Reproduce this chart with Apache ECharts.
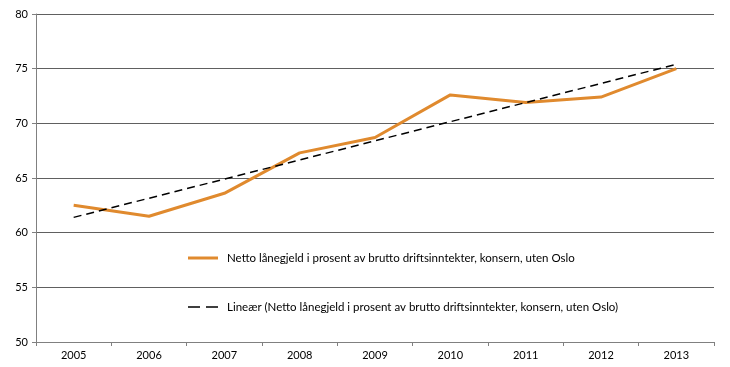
<!DOCTYPE html>
<html><head><meta charset="utf-8">
<script src="https://cdn.jsdelivr.net/npm/echarts@6/dist/echarts.min.js"></script>
<style>html,body{margin:0;padding:0;background:#fff}#c{width:730px;height:367px}</style>
</head><body><div id="c"></div>
<script>
const categories = ['2005','2006','2007','2008','2009','2010','2011','2012','2013'];
const netto = [62.5, 61.5, 63.6, 67.3, 68.7, 72.6, 71.9, 72.4, 75.0];
const trend = [61.4, 63.15, 64.9, 66.65, 68.4, 70.15, 71.9, 73.65, 75.4];
const seriesNames = ['Netto lånegjeld i prosent av brutto driftsinntekter, konsern, uten Oslo',
  'Lineær (Netto lånegjeld i prosent av brutto driftsinntekter, konsern, uten Oslo)'];
const font = 'Lato, "Open Sans", sans-serif';
const chart = echarts.init(document.getElementById('c'));
chart.setOption({
  animation: false,
  grid: {left: 36, right: 16, top: 14, bottom: 25},
  legend: {
    orient: 'vertical', left: 188, top: 252, itemGap: 37, padding: 0,
    itemWidth: 30, itemHeight: 14,
    textStyle: {fontFamily: font, fontSize: 11.5, color: '#000', padding: [0, 0, 0, 4]},
    data: [
      {name: seriesNames[0], icon: 'path://M0,0 L30,0 L30,3 L0,3 Z', itemStyle:{color:'#E08A2E'}},
      {name: seriesNames[1], icon: 'path://M0,0 L12,0 L12,1.5 L0,1.5 Z M18,0 L30,0 L30,1.5 L18,1.5 Z', itemStyle:{color:'#000'}}
    ]
  },
  xAxis: {
    type: 'category', data: categories, boundaryGap: true,
    axisLine: {lineStyle: {color: '#808080', width: 1}},
    axisTick: {show: true, length: 4, lineStyle: {color: '#808080'}},
    axisLabel: {fontFamily: font, fontSize: 11, color: '#000', margin: 8}
  },
  yAxis: {
    type: 'value', min: 50, max: 80, interval: 5,
    axisLine: {show: true, lineStyle: {color: '#808080', width: 1}},
    axisTick: {show: true, length: 4, lineStyle: {color: '#808080'}},
    axisLabel: {fontFamily: font, fontSize: 11, color: '#000', margin: 8},
    splitLine: {lineStyle: {color: '#606060', width: 1}}
  },
  series: [
    {name: seriesNames[0], type: 'line', data: netto, symbol: 'none',
     lineStyle: {color: '#E08A2E', width: 3}, itemStyle: {color: '#E08A2E'}},
    {name: seriesNames[1], type: 'line', data: trend, symbol: 'none',
     lineStyle: {color: '#000', width: 1.5, type: [8, 5]}, itemStyle: {color: '#000'}}
  ]
});
</script></body></html>
